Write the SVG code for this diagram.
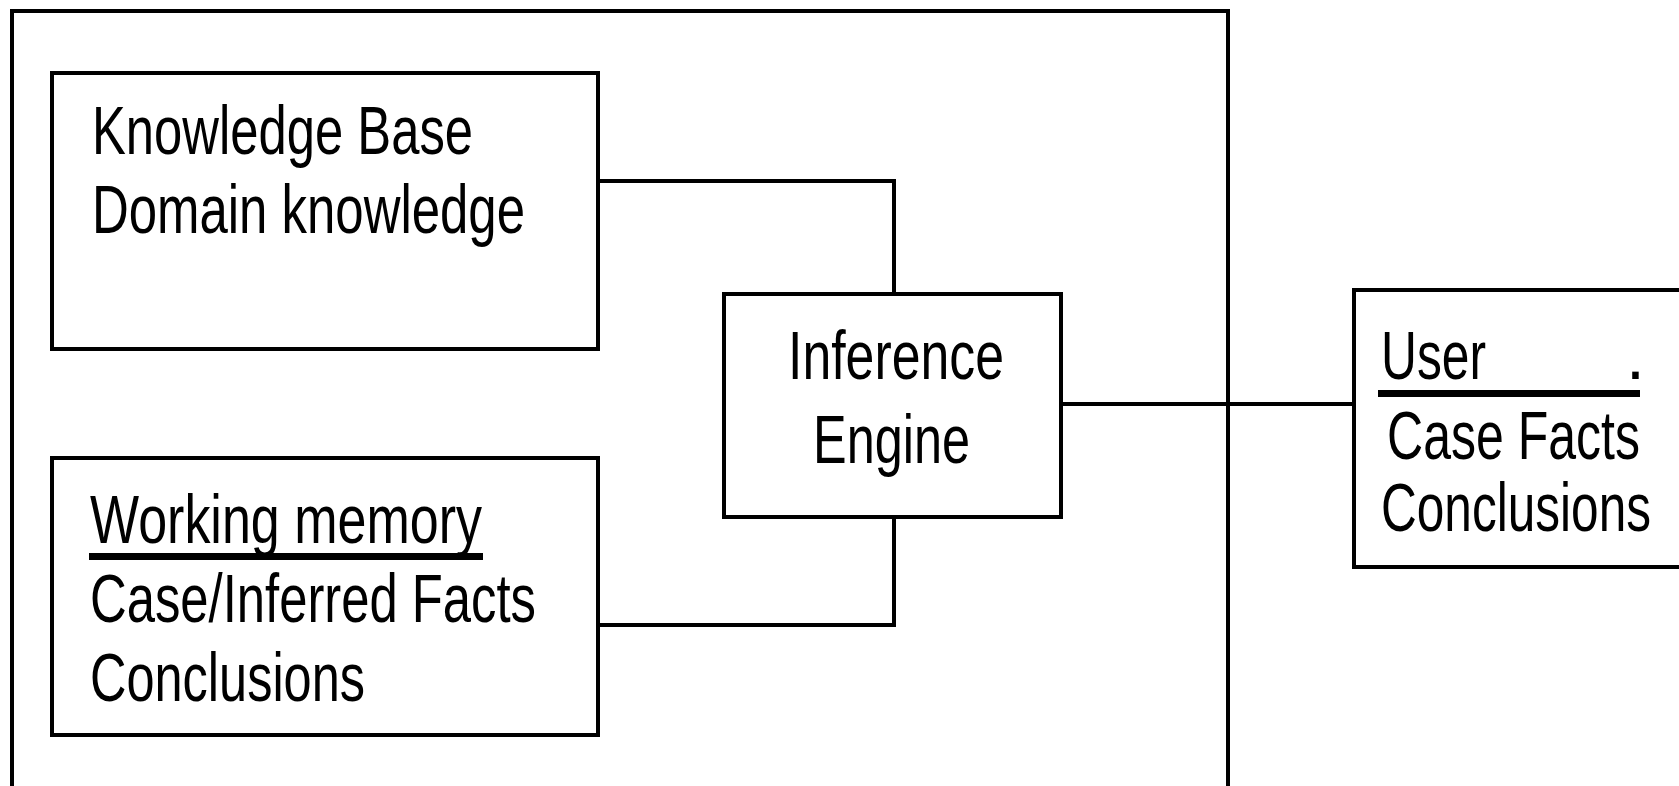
<svg xmlns="http://www.w3.org/2000/svg" width="1679" height="786" viewBox="0 0 1679 786">
<style>
.box{fill:#fff;stroke:#000;stroke-width:4}
.ln{fill:none;stroke:#000;stroke-width:4}
.t{font-family:"Liberation Sans",Arial,sans-serif;font-size:68px;fill:#000}
</style>
<rect width="1679" height="786" fill="#fff"/>
<rect id="outer" x="12" y="11" width="1216" height="800" fill="none" stroke="#000" stroke-width="4"/>
<g id="connectors">
<polyline class="ln" points="598,181 894,181 894,294"/>
<polyline class="ln" points="598,625 894,625 894,517"/>
<line class="ln" x1="1061" y1="404" x2="1354" y2="404"/>
</g>
<g id="knowledge-base">
<rect class="box" x="52" y="73" width="546" height="276"/>
<text class="t" x="92" y="154" textLength="381" lengthAdjust="spacingAndGlyphs">Knowledge Base</text>
<text class="t" x="92" y="233" textLength="433" lengthAdjust="spacingAndGlyphs">Domain knowledge</text>
</g>
<g id="working-memory">
<rect class="box" x="52" y="458" width="546" height="277"/>
<text class="t" x="90" y="543" textLength="392" lengthAdjust="spacingAndGlyphs">Working memory</text>
<rect x="89" y="553" width="394" height="7" fill="#000"/>
<text class="t" x="90" y="622" textLength="446" lengthAdjust="spacingAndGlyphs">Case/Inferred Facts</text>
<text class="t" x="90" y="701" textLength="275" lengthAdjust="spacingAndGlyphs">Conclusions</text>
</g>
<g id="inference-engine">
<rect class="box" x="724" y="294" width="337" height="223"/>
<text class="t" x="788" y="379" textLength="216" lengthAdjust="spacingAndGlyphs">Inference</text>
<text class="t" x="813" y="463" textLength="157" lengthAdjust="spacingAndGlyphs">Engine</text>
</g>
<g id="user">
<rect class="box" x="1354" y="290" width="340" height="277"/>
<text class="t" x="1381" y="379" textLength="105" lengthAdjust="spacingAndGlyphs">User</text>
<text class="t" x="1626" y="379">.</text>
<rect x="1378" y="390" width="262" height="7" fill="#000"/>
<text class="t" x="1387" y="459" textLength="253" lengthAdjust="spacingAndGlyphs">Case Facts</text>
<text class="t" x="1381" y="531" textLength="270" lengthAdjust="spacingAndGlyphs">Conclusions</text>
</g>
</svg>
